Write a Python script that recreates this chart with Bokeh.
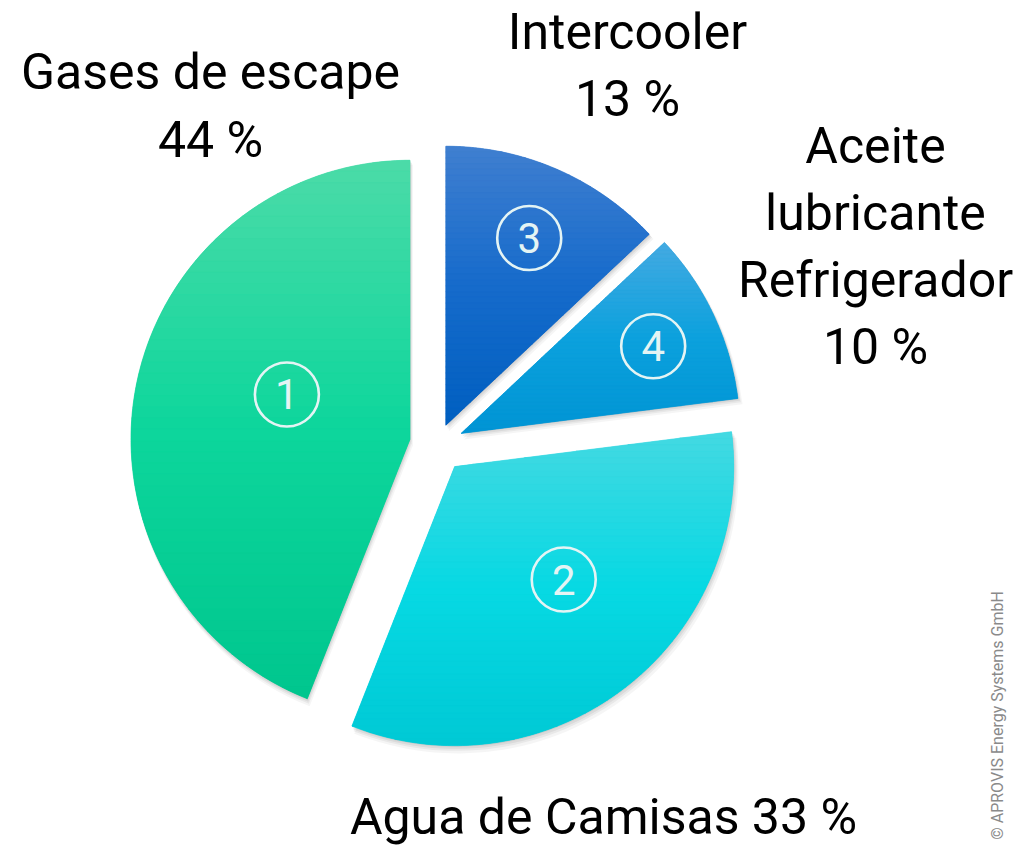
import numpy as np
from bokeh.plotting import figure
from bokeh.models import Range1d, ColumnDataSource
from bokeh.core.properties import value
from bokeh.embed import file_html
from bokeh.resources import INLINE

# ---------------- data ----------------
categories = ["Gases de escape", "Agua de Camisas", "Intercooler", "Aceite\nlubricante\nRefrigerador"]
shares = [44, 33, 13, 10]
numbers = ["1", "2", "3", "4"]
credit = "\u00a9 APROVIS Energy Systems GmbH"

# ---------------- layout / style ----------------
W, H = 1013, 846
CX, CY = 437, 402          # pie centre (data units = pixels)
R = 279                    # radius
explode = [28, 28, 21, 26] # explode distance per slice
clockwise_order = [2, 3, 1, 0]   # drawing order clockwise from 12 o'clock
label_sep = ["\n", " ", "\n", "\n"]
label_x = [210, 603, 627, 875]
label_first_mid = [775, 30, 815, 701]
line_step = [68, 67, 67, 67.3]
badge_dist = [131, 157, 205, 211]
badge_theta = [290, 136, 24, 65.6]

top_col = ["#4CDBA8", "#44D9E2", "#407FD0", "#45AAE2"]
mid_col = ["#0DD69C", "#07D9E3", "#166BCB", "#0CA1DD"]
bot_col = ["#00C68E", "#00C9D5", "#005FC0", "#0094D4"]
FONT = "Roboto"


def hex2rgb(h):
    return np.array([int(h[i:i + 2], 16) for i in (1, 3, 5)], dtype=float)


def lerp_col(t, c0, c1, c2):
    a, b, c = hex2rgb(c0), hex2rgb(c1), hex2rgb(c2)
    if t < 0.5:
        r = a + (b - a) * (t / 0.5)
    else:
        r = b + (c - b) * ((t - 0.5) / 0.5)
    return "#%02x%02x%02x" % tuple(int(round(v)) for v in r)


def clip_half(poly, yc, keep_above):
    out = []
    n = len(poly)
    for k in range(n):
        p1, p2 = poly[k], poly[(k + 1) % n]
        in1 = p1[1] >= yc if keep_above else p1[1] <= yc
        in2 = p2[1] >= yc if keep_above else p2[1] <= yc
        if in1:
            out.append(p1)
        if in1 != in2:
            t = (yc - p1[1]) / (p2[1] - p1[1])
            out.append((p1[0] + t * (p2[0] - p1[0]), yc))
    return out


# ---------------- geometry from the data ----------------
total = float(sum(shares))
apex_x, apex_y, start_a, end_a = [0.0] * 4, [0.0] * 4, [0.0] * 4, [0.0] * 4
theta1, theta2 = [0.0] * 4, [0.0] * 4
cum = 0.0
for i in clockwise_order:
    t1 = cum / total * 360.0
    cum += shares[i]
    t2 = cum / total * 360.0
    tm = np.radians((t1 + t2) / 2)
    theta1[i], theta2[i] = t1, t2
    apex_x[i] = CX + explode[i] * np.sin(tm)
    apex_y[i] = CY + explode[i] * np.cos(tm)
    start_a[i] = np.radians(90 - t2)
    end_a[i] = np.radians(90 - t1)

src = ColumnDataSource(dict(x=apex_x, y=apex_y, start=start_a, end=end_a,
                            color=mid_col, cat=categories, share=shares))

p = figure(width=W, height=H, x_range=Range1d(0, W), y_range=Range1d(0, H),
           output_backend="svg", toolbar_location=None, min_border=0,
           x_axis_location=None, y_axis_location=None, outline_line_color=None,
           background_fill_color="white", border_fill_color="white")
p.xgrid.visible = False
p.ygrid.visible = False

# soft shadow
for off, alpha in [(1, 0.06), (2.5, 0.06), (4, 0.05), (6, 0.04)]:
    sh = ColumnDataSource(dict(x=[v + off * 0.5 for v in apex_x], y=[v - off for v in apex_y],
                               start=start_a, end=end_a))
    p.wedge(x="x", y="y", radius=R + off * 0.3, start_angle="start", end_angle="end",
            direction="anticlock", fill_color="black", fill_alpha=alpha, line_color=None, source=sh)

# base wedges
p.wedge(x="x", y="y", radius=R, start_angle="start", end_angle="end", direction="anticlock",
        fill_color="color", line_color=None, source=src)

# vertical gradient overlay (bands of each wedge)
bx, by, bc = [], [], []
NB = 48
for i in range(4):
    th = np.radians(np.linspace(theta1[i], theta2[i], 160))
    poly = [(apex_x[i], apex_y[i])] + [(apex_x[i] + R * np.sin(a), apex_y[i] + R * np.cos(a)) for a in th]
    ys = [q[1] for q in poly]
    ymin, ymax = min(ys), max(ys)
    edges = np.linspace(ymax, ymin, NB + 1)
    for k in range(NB):
        hi, lo = edges[k], edges[k + 1]
        part = clip_half(clip_half(poly, lo, True), hi, False)
        if len(part) < 3:
            continue
        t = (k + 0.5) / NB
        c = lerp_col(t, top_col[i], mid_col[i], bot_col[i])
        bx.append([q[0] for q in part])
        by.append([q[1] for q in part])
        bc.append(c)
p.patches(xs=bx, ys=by, fill_color=bc, line_color=bc, line_width=0.7)

# numbered badges
bxs = [apex_x[i] + badge_dist[i] * np.sin(np.radians(badge_theta[i])) for i in range(4)]
bys = [apex_y[i] + badge_dist[i] * np.cos(np.radians(badge_theta[i])) for i in range(4)]
bsrc = ColumnDataSource(dict(x=bxs, y=bys, n=numbers))
p.circle(x="x", y="y", radius=32, fill_color=None, line_color="#E4F4F4", line_width=2.6, source=bsrc)
p.text(x="x", y="y", text="n", source=bsrc, text_align="center", text_baseline="middle",
       text_color="#E4F4F4", text_font_size="42px", text_font=value(FONT))

# outer labels, one text per line
lx, ly, lt = [], [], []
for i in range(4):
    lines = (categories[i] + label_sep[i] + "%d %%" % shares[i]).split("\n")
    for k, line in enumerate(lines):
        lx.append(label_x[i])
        ly.append(label_first_mid[i] - k * line_step[i])
        lt.append(line)
lsrc = ColumnDataSource(dict(x=lx, y=ly, t=lt))
p.text(x="x", y="y", text="t", source=lsrc, text_align="center", text_baseline="middle",
       text_color="black", text_font_size="50px", text_font=value(FONT))

# credit
p.text(x=[997], y=[131], text=[credit], angle=np.pi / 2, text_align="center", text_baseline="middle",
       text_color="#8A8A8A", text_font_size="16px", text_font=value(FONT))

open("out.html", "w").write(file_html(p, INLINE))
